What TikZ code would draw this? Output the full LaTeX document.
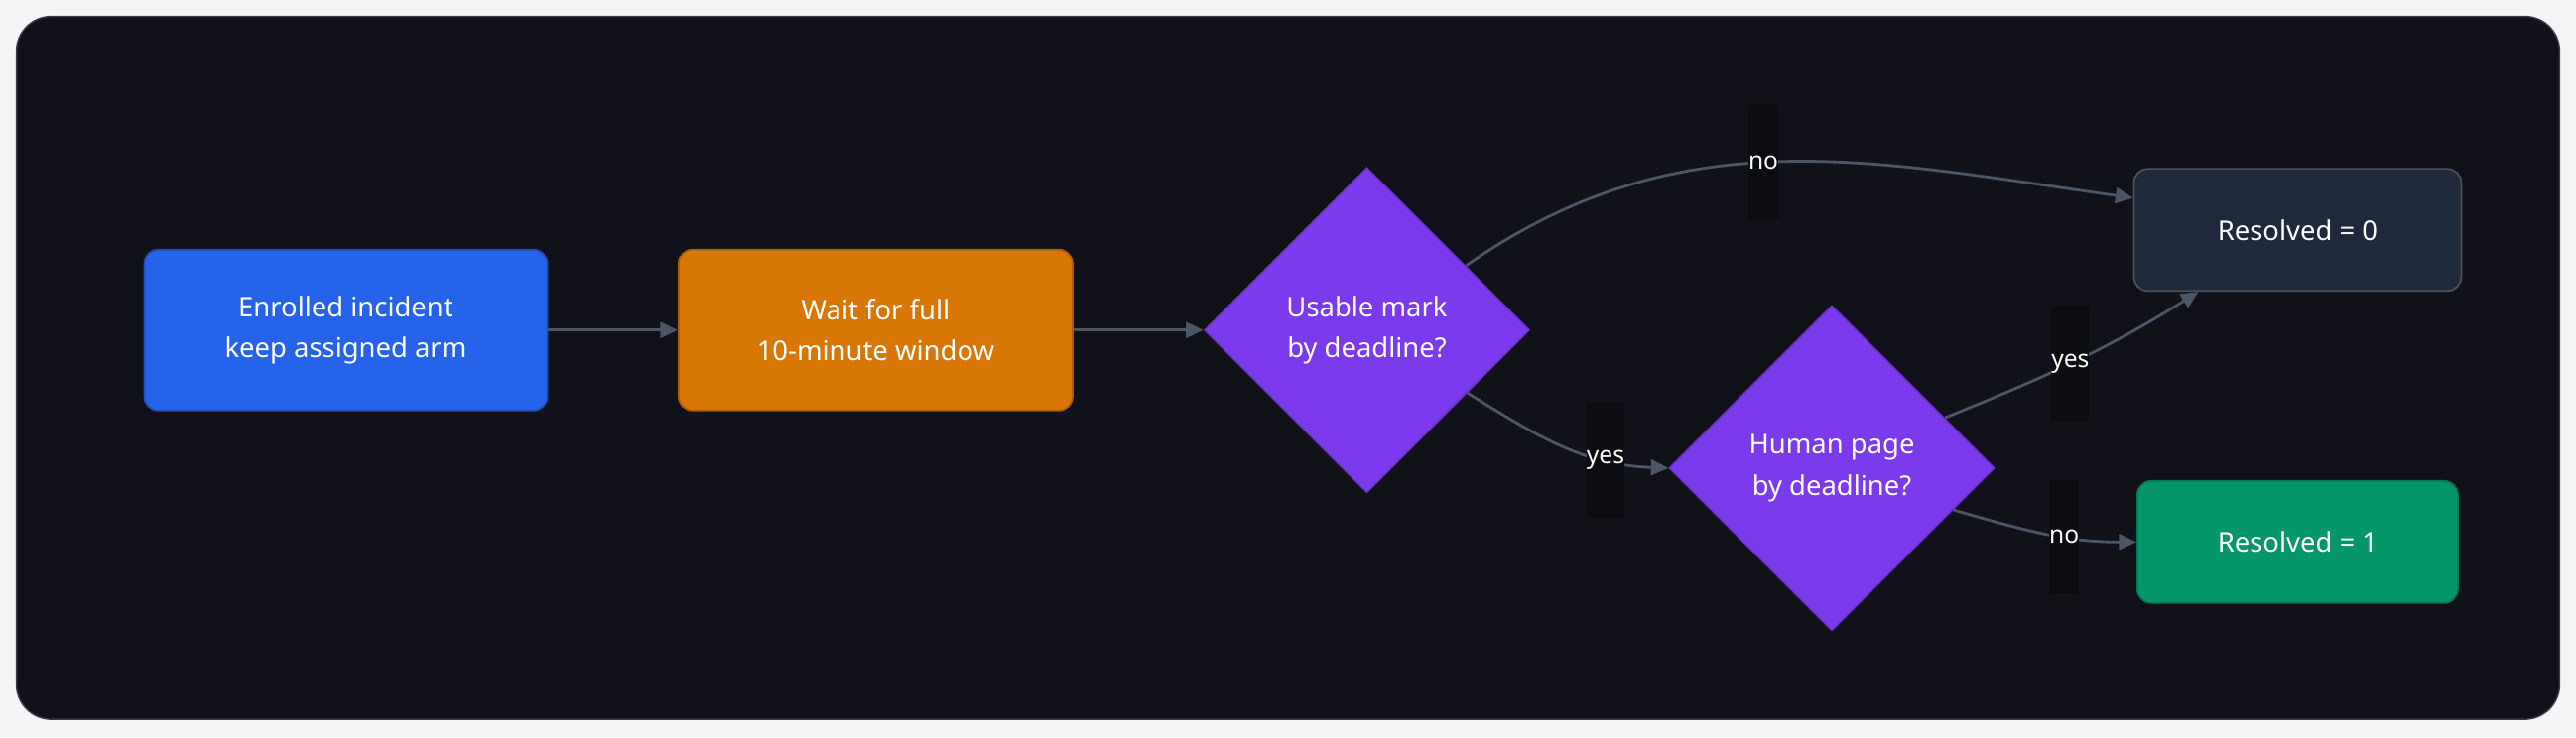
\documentclass[tikz,border=0pt]{standalone}
\usepackage{fontspec}
\setmainfont{Noto Sans}
\usetikzlibrary{shapes.geometric,arrows.meta}
\definecolor{pagebg}{HTML}{F3F4F6}
\definecolor{panel}{HTML}{111219}
\definecolor{panelline}{HTML}{3A3D46}
\definecolor{edgegray}{HTML}{4B5566}
\definecolor{lblbg}{HTML}{0C0D10}
\definecolor{armblue}{HTML}{2563EB}
\definecolor{waitorange}{HTML}{D97706}
\definecolor{askpurple}{HTML}{7C3AED}
\definecolor{zeroslate}{HTML}{1E293B}
\definecolor{onegreen}{HTML}{059669}
\tikzset{
  box/.style={rounded corners=4pt,text=white,align=center,font=\fontsize{7.8}{11.8}\selectfont,line width=0.5pt},
  ask/.style={diamond,aspect=1,minimum size=3.28cm,inner sep=0pt,fill=askpurple,draw=askpurple!85!black,text=white,align=center,font=\fontsize{7.8}{11.8}\selectfont},
  edge/.style={draw=edgegray,line width=0.8pt,-{Triangle[length=5pt,width=4.5pt]}},
  lbl/.style={fill=lblbg,text=white,inner xsep=0pt,minimum width=0.2cm,minimum height=1.16cm,font=\fontsize{7}{8}\selectfont}
}
\begin{document}
\begin{tikzpicture}[x=0.01656cm,y=-0.01656cm]
  \fill[pagebg] (0,0) rectangle (1568,449);
  \useasboundingbox (0,0) rectangle (1568,449);
  \draw[panelline,fill=panel,rounded corners=10pt] (10,10) rectangle (1558,438);

  \node[box,fill=armblue,draw=armblue!80!black,minimum width=4.06cm,minimum height=1.62cm] (arm) at (210.5,201) {Enrolled incident\\keep assigned arm};
  \node[box,fill=waitorange,draw=waitorange!80!black,minimum width=3.97cm,minimum height=1.62cm] (wait) at (533,201) {Wait for full\\10-minute window};
  \node[ask] (mark) at (832,201) {Usable mark\\by deadline?};
  \node[ask] (page) at (1115,285) {Human page\\by deadline?};
  \node[box,fill=zeroslate,draw=panelline!90!white,minimum width=3.30cm,minimum height=1.23cm] (zero) at (1398.5,140) {Resolved = 0};
  \node[box,fill=onegreen,draw=onegreen!80!black,minimum width=3.23cm,minimum height=1.23cm] (one) at (1398.5,330) {Resolved = 1};

  \draw[edge] (arm) -- (wait);
  \draw[edge] (wait) -- (mark);
  \draw[edge] (mark.33) to[out=35,in=172] node[lbl,pos=0.47]{no} (zero.169);
  \draw[edge] (mark.-32) to[out=-32,in=178] node[lbl,pos=0.72]{yes} (page.west);
  \draw[edge] (page.24) to[out=22,in=212] node[lbl,pos=0.48]{yes} (zero.212);
  \draw[edge] (page.-19) to[out=-16,in=180] node[lbl,pos=0.62]{no} (one.west);
\end{tikzpicture}
\end{document}
